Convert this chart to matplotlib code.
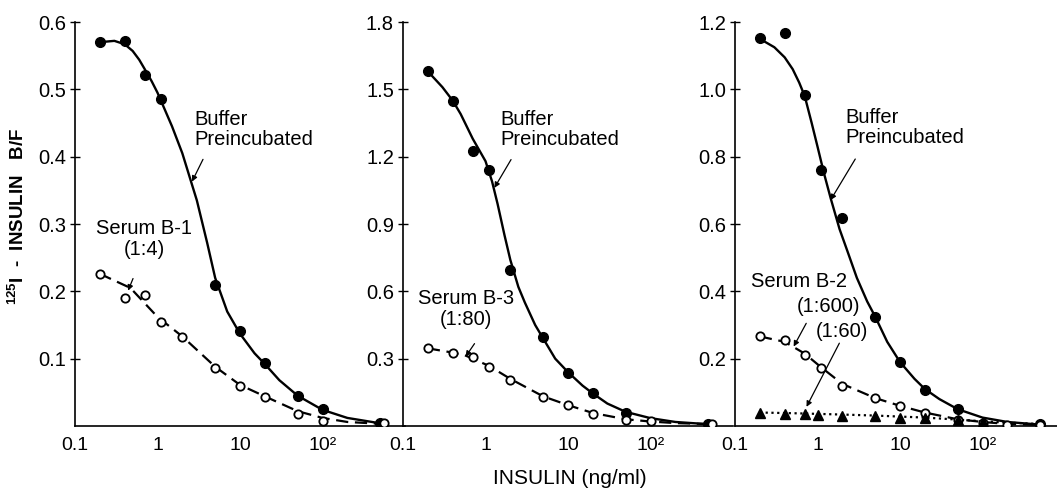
import matplotlib
matplotlib.use("Agg")
import matplotlib.pyplot as plt

plt.rcParams['font.family'] = ['Liberation Sans', 'DejaVu Sans']
plt.rcParams['mathtext.fontset'] = 'custom'
plt.rcParams['mathtext.rm'] = 'Liberation Sans'
plt.rcParams['mathtext.bf'] = 'Liberation Sans:bold'

# ---- data ----
# panel 1: serum B-1
p1_buffer_x = [0.2, 0.4, 0.7, 1.1, 5, 10, 20, 50, 100, 500]
p1_buffer_y = [0.570, 0.572, 0.522, 0.485, 0.210, 0.141, 0.094, 0.044, 0.025, 0.004]
p1_serum_x = [0.2, 0.4, 0.7, 1.1, 2, 5, 10, 20, 50, 100, 550]
p1_serum_y = [0.226, 0.190, 0.195, 0.154, 0.132, 0.086, 0.059, 0.043, 0.018, 0.008, 0.004]
p1_fit_x = [0.2, 0.3, 0.4, 0.5, 0.6, 0.7, 0.85, 1.0, 1.5, 2, 3, 4, 5, 7, 10, 15, 20, 30, 50, 100, 200, 500]
p1_fit_y = [0.570, 0.572, 0.567, 0.557, 0.544, 0.530, 0.512, 0.495, 0.445, 0.405, 0.335, 0.272,
            0.220, 0.170, 0.137, 0.108, 0.092, 0.068, 0.045, 0.024, 0.012, 0.004]
p1_dash_x = [0.2, 0.47, 1, 2, 5, 10, 20, 50, 100, 200, 550]
p1_dash_y = [0.226, 0.205, 0.162, 0.133, 0.088, 0.061, 0.044, 0.022, 0.012, 0.006, 0.003]

# panel 2: serum B-3
p2_buffer_x = [0.2, 0.4, 0.7, 1.1, 2, 5, 10, 20, 50, 500]
p2_buffer_y = [1.582, 1.448, 1.227, 1.142, 0.694, 0.395, 0.234, 0.145, 0.060, 0.008]
p2_serum_x = [0.2, 0.4, 0.7, 1.1, 2, 5, 10, 20, 50, 100, 560]
p2_serum_y = [0.346, 0.325, 0.306, 0.264, 0.206, 0.130, 0.094, 0.055, 0.027, 0.022, 0.008]
p2_fit_x = [0.2, 0.3, 0.4, 0.5, 0.7, 1.0, 1.2, 1.4, 1.7, 2.0, 2.5, 3, 4, 5, 7, 10, 15, 20, 30, 50, 100, 200, 500]
p2_fit_y = [1.58, 1.51, 1.45, 1.39, 1.28, 1.18, 1.09, 0.99, 0.85, 0.74, 0.62, 0.55, 0.45, 0.39,
            0.30, 0.24, 0.18, 0.145, 0.100, 0.063, 0.035, 0.018, 0.008]
p2_dash_x = [0.2, 0.4, 0.58, 1.1, 2, 5, 10, 20, 50, 100, 200, 560]
p2_dash_y = [0.346, 0.327, 0.313, 0.268, 0.210, 0.132, 0.093, 0.058, 0.030, 0.020, 0.013, 0.008]

# panel 3: serum B-2
p3_buffer_x = [0.2, 0.4, 0.7, 1.1, 2, 5, 10, 20, 50, 500]
p3_buffer_y = [1.151, 1.166, 0.982, 0.759, 0.618, 0.325, 0.189, 0.107, 0.050, 0.005]
p3_s600_x = [0.2, 0.4, 0.7, 1.1, 2, 5, 10, 20, 50, 100, 200, 500]
p3_s600_y = [0.266, 0.254, 0.212, 0.172, 0.119, 0.082, 0.060, 0.040, 0.018, 0.010, 0.004, 0.003]
p3_s60_x = [0.2, 0.4, 0.7, 1.0, 2, 5, 10, 20, 50, 100]
p3_s60_y = [0.038, 0.036, 0.035, 0.032, 0.030, 0.030, 0.025, 0.025, 0.018, 0.012]
p3_fit_x = [0.2, 0.3, 0.4, 0.5, 0.6, 0.7, 0.85, 1.0, 1.2, 1.45, 1.85, 2.3, 3, 4, 5, 7, 10, 15, 20, 30, 50, 100, 200, 500]
p3_fit_y = [1.15, 1.125, 1.095, 1.06, 1.02, 0.98, 0.90, 0.83, 0.75, 0.675, 0.585, 0.52, 0.44,
            0.37, 0.325, 0.25, 0.19, 0.14, 0.11, 0.08, 0.05, 0.025, 0.012, 0.004]
p3_dash600_x = [0.2, 0.4, 0.7, 1.1, 2, 5, 10, 20, 50, 100, 200, 500]
p3_dash600_y = [0.266, 0.250, 0.215, 0.175, 0.125, 0.083, 0.060, 0.040, 0.020, 0.012, 0.006, 0.003]
p3_dot60_x = [0.2, 0.5, 1, 2, 5, 10, 20, 50, 100, 200, 500]
p3_dot60_y = [0.040, 0.038, 0.036, 0.034, 0.031, 0.028, 0.025, 0.019, 0.014, 0.010, 0.006]

x_ticks = [0.1, 1, 10, 100]
x_tick_labels = ['0.1', '1', '10', '10²']
y_ticks = [[0.1, 0.2, 0.3, 0.4, 0.5, 0.6],
           [0.3, 0.6, 0.9, 1.2, 1.5, 1.8],
           [0.2, 0.4, 0.6, 0.8, 1.0, 1.2]]

fig = plt.figure(figsize=(10.57, 4.9), dpi=100)
lefts = [75 / 1057, 403 / 1057, 735 / 1057]
width = 330 / 1057
bottom = 1 - 426 / 490
height = (426 - 22) / 490
axes = [fig.add_axes([l, bottom, width, height]) for l in lefts]

fill_kw = dict(marker='o', ls='none', color='black', ms=7, zorder=4)
open_kw = dict(marker='o', ls='none', mfc='white', mec='black', mew=1.3, ms=6, zorder=4)
solid_kw = dict(color='black', lw=1.7, zorder=3)
dash_kw = dict(color='black', lw=1.6, ls=(0, (5.5, 3)), zorder=3)
arrow_kw = dict(arrowstyle='-|>', color='black', lw=0.9, mutation_scale=8,
                shrinkA=0, shrinkB=0)
txt = 14.5

for ax, yt in zip(axes, y_ticks):
    ax.set_xscale('log')
    ax.set_xlim(0.1, 1000)
    ax.set_ylim(0, yt[-1])
    ax.set_xticks(x_ticks)
    ax.set_xticklabels(x_tick_labels)
    ax.xaxis.set_minor_locator(plt.NullLocator())
    ax.set_yticks(yt)
    ax.set_yticklabels(['%.1f' % v for v in yt])
    ax.tick_params(axis='x', length=0, pad=8, labelsize=14)
    ax.tick_params(axis='y', direction='inout', length=7, width=1, pad=3, labelsize=14.5)
    for s in ['top', 'right']:
        ax.spines[s].set_visible(False)
    for s in ['left', 'bottom']:
        ax.spines[s].set_linewidth(1.2)
    ax.patch.set_alpha(0)

# panel 1
ax = axes[0]
ax.plot(p1_fit_x, p1_fit_y, **solid_kw)
ax.plot(p1_dash_x, p1_dash_y, **dash_kw)
ax.plot(p1_buffer_x, p1_buffer_y, **fill_kw)
ax.plot(p1_serum_x, p1_serum_y, **open_kw)
ax.text(2.77, 0.47, 'Buffer\nPreincubated', fontsize=txt, va='top', ha='left', linespacing=1.1)
ax.annotate('', xy=(2.62, 0.363), xytext=(3.56, 0.396), arrowprops=arrow_kw)
ax.text(0.685, 0.307, 'Serum B-1\n(1:4)', fontsize=txt, va='top', ha='center', linespacing=1.1)
ax.annotate('', xy=(0.44, 0.201), xytext=(0.505, 0.219), arrowprops=arrow_kw)

# panel 2
ax = axes[1]
ax.plot(p2_fit_x, p2_fit_y, **solid_kw)
ax.plot(p2_dash_x, p2_dash_y, **dash_kw)
ax.plot(p2_buffer_x, p2_buffer_y, **fill_kw)
ax.plot(p2_serum_x, p2_serum_y, **open_kw)
ax.text(1.50, 1.41, 'Buffer\nPreincubated', fontsize=txt, va='top', ha='left', linespacing=1.1)
ax.annotate('', xy=(1.28, 1.061), xytext=(2.04, 1.187), arrowprops=arrow_kw)
ax.text(0.574, 0.61, 'Serum B-3\n(1:80)', fontsize=txt, va='top', ha='center', linespacing=1.1)
ax.annotate('', xy=(0.574, 0.309), xytext=(0.736, 0.367), arrowprops=arrow_kw)

# panel 3
ax = axes[2]
ax.plot(p3_fit_x, p3_fit_y, **solid_kw)
ax.plot(p3_dash600_x, p3_dash600_y, **dash_kw)
ax.plot(p3_dot60_x, p3_dot60_y, color='black', lw=1.6, ls=(0, (1, 1.6)), zorder=3)
ax.plot(p3_buffer_x, p3_buffer_y, **fill_kw)
ax.plot(p3_s600_x, p3_s600_y, **open_kw)
ax.plot(p3_s60_x, p3_s60_y, marker='^', ls='none', color='black', ms=7, zorder=4)
ax.text(2.16, 0.945, 'Buffer\nPreincubated', fontsize=txt, va='top', ha='left', linespacing=1.1)
ax.annotate('', xy=(1.44, 0.671), xytext=(2.87, 0.793), arrowprops=arrow_kw)
ax.text(0.155, 0.456, 'Serum B-2', fontsize=txt, va='top', ha='left')
ax.text(1.36, 0.382, '(1:600)', fontsize=txt, va='top', ha='center')
ax.text(2.0, 0.308, '(1:60)', fontsize=txt, va='top', ha='center')
ax.annotate('', xy=(0.514, 0.236), xytext=(0.73, 0.305), arrowprops=arrow_kw)
ax.annotate('', xy=(0.736, 0.057), xytext=(1.84, 0.246), arrowprops=arrow_kw)

fig.text(18 / 1057, 1 - 217 / 490, r'$\mathbf{^{125}}$I  -  INSULIN   B/F', rotation=90,
         ha='center', va='center', fontsize=13.5, fontweight='bold')
fig.text(570 / 1057, 1 - 478 / 490, 'INSULIN (ng/ml)', ha='center', va='center', fontsize=15)

fig.savefig('out.png', dpi=100)
